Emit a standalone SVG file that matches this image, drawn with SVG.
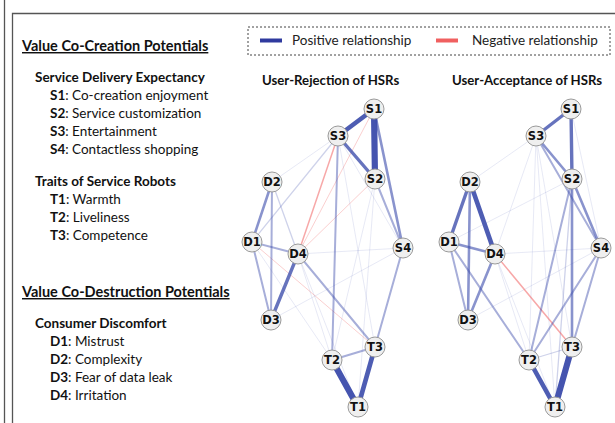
<svg xmlns="http://www.w3.org/2000/svg" width="615" height="423" viewBox="0 0 615 423">
  <style>
    .panel { fill: none; stroke: #555; stroke-width: 1.3; }
    .h1 { font-family: Lato, "Liberation Sans", sans-serif; font-weight: bold; font-size: 14.5px; fill: #111; text-decoration: underline; }
    .h2 { font-family: Lato, "Liberation Sans", sans-serif; font-weight: bold; font-size: 13.5px; fill: #111; }
    .item { font-family: Lato, "Liberation Sans", sans-serif; font-size: 13.5px; fill: #111; }
    .item tspan.k { font-weight: bold; }
    .legend { font-family: Lato, "Liberation Sans", sans-serif; font-size: 13.5px; fill: #222; }
    .title { font-family: Lato, "Liberation Sans", sans-serif; font-weight: bold; font-size: 13.2px; fill: #111; }
    .node circle { fill: #efefef; stroke: #9a9a9a; stroke-width: 1; }
    .node text { font-family: "DejaVu Sans", sans-serif; font-weight: bold; font-size: 11.5px; fill: #111; text-anchor: middle; dominant-baseline: central; }
    .edges line { stroke: #3b4bab; stroke-linecap: round; }
    .edges line.r1 { stroke: #f06060; stroke-width: 1; stroke-opacity: 0.3; }
    .edges line.r2 { stroke: #f06060; stroke-width: 1.5; stroke-opacity: 0.55; }
    .edges line.e1 { stroke-width: 1; stroke-opacity: 0.12; }
    .edges line.e2 { stroke-width: 1.3; stroke-opacity: 0.25; }
    .edges line.e3 { stroke-width: 2; stroke-opacity: 0.45; }
    .edges line.e4 { stroke-width: 2.6; stroke-opacity: 0.6; }
    .edges line.e5 { stroke-width: 3.4; stroke-opacity: 0.78; }
    .edges line.e6 { stroke-width: 4.6; stroke-opacity: 0.9; }
    .edges line.e7 { stroke-width: 6.2; stroke-opacity: 0.95; }
  </style>

  <!-- frame lines -->
  <line x1="4.5" y1="0" x2="4.5" y2="423" class="panel"/>
  <path d="M12.5 423 V13.5 H615" class="panel"/>

  <!-- variable list -->
  <g id="legend-text">
    <text x="22" y="51" class="h1">Value Co-Creation Potentials</text>
    <text x="35" y="82" class="h2">Service Delivery Expectancy</text>
    <text x="50" y="100" class="item"><tspan class="k">S1</tspan>: Co-creation enjoyment</text>
    <text x="50" y="118" class="item"><tspan class="k">S2</tspan>: Service customization</text>
    <text x="50" y="136" class="item"><tspan class="k">S3</tspan>: Entertainment</text>
    <text x="50" y="154" class="item"><tspan class="k">S4</tspan>: Contactless shopping</text>
    <text x="35" y="186" class="h2">Traits of Service Robots</text>
    <text x="50" y="204" class="item"><tspan class="k">T1</tspan>: Warmth</text>
    <text x="50" y="222" class="item"><tspan class="k">T2</tspan>: Liveliness</text>
    <text x="50" y="240" class="item"><tspan class="k">T3</tspan>: Competence</text>

    <text x="22" y="297" class="h1">Value Co-Destruction Potentials</text>
    <text x="35" y="328" class="h2">Consumer Discomfort</text>
    <text x="50" y="346" class="item"><tspan class="k">D1</tspan>: Mistrust</text>
    <text x="50" y="364" class="item"><tspan class="k">D2</tspan>: Complexity</text>
    <text x="50" y="382" class="item"><tspan class="k">D3</tspan>: Fear of data leak</text>
    <text x="50" y="400" class="item"><tspan class="k">D4</tspan>: Irritation</text>
  </g>

  <!-- relationship key -->
  <g id="key">
    <rect x="248" y="27" width="362" height="28" fill="none" stroke="#444" stroke-width="1" stroke-dasharray="2,2"/>
    <line x1="260" y1="40.5" x2="282" y2="40.5" stroke="#2f3a9e" stroke-width="4"/>
    <text x="292" y="45" class="legend">Positive relationship</text>
    <line x1="436" y1="40.5" x2="458" y2="40.5" stroke="#f06060" stroke-width="4"/>
    <text x="472" y="45" class="legend">Negative relationship</text>
  </g>

  <text x="262" y="85" class="title">User-Rejection of HSRs</text>
  <text x="452" y="85" class="title">User-Acceptance of HSRs</text>

  <!-- network: user rejection -->
  <g id="edges-rejection" class="edges">
    <line class="e1" x1="338" y1="136" x2="272" y2="182"/>
    <line class="e1" x1="338" y1="136" x2="403" y2="248"/>
    <line class="e1" x1="298" y1="254" x2="403" y2="248"/>
    <line class="e1" x1="271" y1="320" x2="403" y2="248"/>
    <line class="e1" x1="375" y1="179" x2="332" y2="360"/>
    <line class="e1" x1="375" y1="179" x2="358" y2="407"/>
    <line class="e1" x1="298" y1="254" x2="332" y2="360"/>
    <line class="e1" x1="252" y1="242" x2="332" y2="360"/>
    <line class="e1" x1="298" y1="254" x2="358" y2="407"/>
    <line class="e1" x1="338" y1="136" x2="375" y2="347"/>
    <line class="e2" x1="272" y1="182" x2="298" y2="254"/>
    <line class="e2" x1="252" y1="242" x2="338" y2="136"/>
    <line class="e3" x1="375" y1="179" x2="403" y2="248"/>
    <line class="r1" x1="374" y1="109" x2="298" y2="254"/>
    <line class="r1" x1="375" y1="179" x2="298" y2="254"/>
    <line class="r1" x1="252" y1="242" x2="375" y2="347"/>
    <line class="r2" x1="338" y1="136" x2="298" y2="254"/>
    <line class="e3" x1="272" y1="182" x2="271" y2="320"/>
    <line class="e3" x1="252" y1="242" x2="298" y2="254"/>
    <line class="e3" x1="252" y1="242" x2="271" y2="320"/>
    <line class="e3" x1="338" y1="136" x2="332" y2="360"/>
    <line class="e3" x1="298" y1="254" x2="375" y2="347"/>
    <line class="e3" x1="403" y1="248" x2="375" y2="347"/>
    <line class="e3" x1="332" y1="360" x2="375" y2="347"/>
    <line class="e4" x1="374" y1="109" x2="403" y2="248"/>
    <line class="e4" x1="272" y1="182" x2="252" y2="242"/>
    <line class="e5" x1="338" y1="136" x2="375" y2="179"/>
    <line class="e5" x1="298" y1="254" x2="271" y2="320"/>
    <line class="e6" x1="374" y1="109" x2="338" y2="136"/>
    <line class="e6" x1="375" y1="347" x2="358" y2="407"/>
    <line class="e7" x1="374" y1="109" x2="375" y2="179"/>
    <line class="e7" x1="332" y1="360" x2="358" y2="407"/>
  </g>
  <g id="rej-S1" class="node"><circle cx="374" cy="109" r="10"/><text x="374" y="109">S1</text></g>
  <g id="rej-S2" class="node"><circle cx="375" cy="179" r="10"/><text x="375" y="179">S2</text></g>
  <g id="rej-S3" class="node"><circle cx="338" cy="136" r="10"/><text x="338" y="136">S3</text></g>
  <g id="rej-S4" class="node"><circle cx="403" cy="248" r="10"/><text x="403" y="248">S4</text></g>
  <g id="rej-D1" class="node"><circle cx="252" cy="242" r="10"/><text x="252" y="242">D1</text></g>
  <g id="rej-D2" class="node"><circle cx="272" cy="182" r="10"/><text x="272" y="182">D2</text></g>
  <g id="rej-D3" class="node"><circle cx="271" cy="320" r="10"/><text x="271" y="320">D3</text></g>
  <g id="rej-D4" class="node"><circle cx="298" cy="254" r="10"/><text x="298" y="254">D4</text></g>
  <g id="rej-T1" class="node"><circle cx="358" cy="407" r="10"/><text x="358" y="407">T1</text></g>
  <g id="rej-T2" class="node"><circle cx="332" cy="360" r="10"/><text x="332" y="360">T2</text></g>
  <g id="rej-T3" class="node"><circle cx="375" cy="347" r="10"/><text x="375" y="347">T3</text></g>

  <!-- network: user acceptance -->
  <g id="edges-acceptance" class="edges">
    <line class="e1" x1="536" y1="136" x2="470" y2="182"/>
    <line class="e1" x1="536" y1="136" x2="495" y2="254"/>
    <line class="e1" x1="536" y1="136" x2="529" y2="360"/>
    <line class="e1" x1="536" y1="136" x2="572" y2="347"/>
    <line class="e1" x1="536" y1="136" x2="555" y2="407"/>
    <line class="e1" x1="571" y1="109" x2="601" y2="248"/>
    <line class="e1" x1="449" y1="242" x2="572" y2="179"/>
    <line class="e1" x1="495" y1="254" x2="601" y2="248"/>
    <line class="e1" x1="468" y1="320" x2="601" y2="248"/>
    <line class="e1" x1="495" y1="254" x2="529" y2="360"/>
    <line class="e1" x1="495" y1="254" x2="555" y2="407"/>
    <line class="e2" x1="572" y1="179" x2="555" y2="407"/>
    <line class="r2" x1="495" y1="254" x2="572" y2="347"/>
    <line class="e2" x1="529" y1="360" x2="572" y2="347"/>
    <line class="e3" x1="449" y1="242" x2="468" y2="320"/>
    <line class="e3" x1="572" y1="179" x2="529" y2="360"/>
    <line class="e3" x1="601" y1="248" x2="572" y2="347"/>
    <line class="e3" x1="601" y1="248" x2="529" y2="360"/>
    <line class="e3" x1="449" y1="242" x2="529" y2="360"/>
    <line class="e3" x1="536" y1="136" x2="601" y2="248"/>
    <line class="e4" x1="572" y1="179" x2="601" y2="248"/>
    <line class="e4" x1="572" y1="179" x2="572" y2="347"/>
    <line class="e4" x1="536" y1="136" x2="572" y2="179"/>
    <line class="e4" x1="470" y1="182" x2="468" y2="320"/>
    <line class="e4" x1="449" y1="242" x2="495" y2="254"/>
    <line class="e4" x1="495" y1="254" x2="468" y2="320"/>
    <line class="e5" x1="571" y1="109" x2="536" y2="136"/>
    <line class="e5" x1="571" y1="109" x2="572" y2="179"/>
    <line class="e5" x1="470" y1="182" x2="449" y2="242"/>
    <line class="e6" x1="470" y1="182" x2="495" y2="254"/>
    <line class="e6" x1="529" y1="360" x2="555" y2="407"/>
    <line class="e7" x1="572" y1="347" x2="555" y2="407"/>
  </g>
  <g id="acc-S1" class="node"><circle cx="571" cy="109" r="10"/><text x="571" y="109">S1</text></g>
  <g id="acc-S2" class="node"><circle cx="572" cy="179" r="10"/><text x="572" y="179">S2</text></g>
  <g id="acc-S3" class="node"><circle cx="536" cy="136" r="10"/><text x="536" y="136">S3</text></g>
  <g id="acc-S4" class="node"><circle cx="601" cy="248" r="10"/><text x="601" y="248">S4</text></g>
  <g id="acc-D1" class="node"><circle cx="449" cy="242" r="10"/><text x="449" y="242">D1</text></g>
  <g id="acc-D2" class="node"><circle cx="470" cy="182" r="10"/><text x="470" y="182">D2</text></g>
  <g id="acc-D3" class="node"><circle cx="468" cy="320" r="10"/><text x="468" y="320">D3</text></g>
  <g id="acc-D4" class="node"><circle cx="495" cy="254" r="10"/><text x="495" y="254">D4</text></g>
  <g id="acc-T1" class="node"><circle cx="555" cy="407" r="10"/><text x="555" y="407">T1</text></g>
  <g id="acc-T2" class="node"><circle cx="529" cy="360" r="10"/><text x="529" y="360">T2</text></g>
  <g id="acc-T3" class="node"><circle cx="572" cy="347" r="10"/><text x="572" y="347">T3</text></g>
</svg>
